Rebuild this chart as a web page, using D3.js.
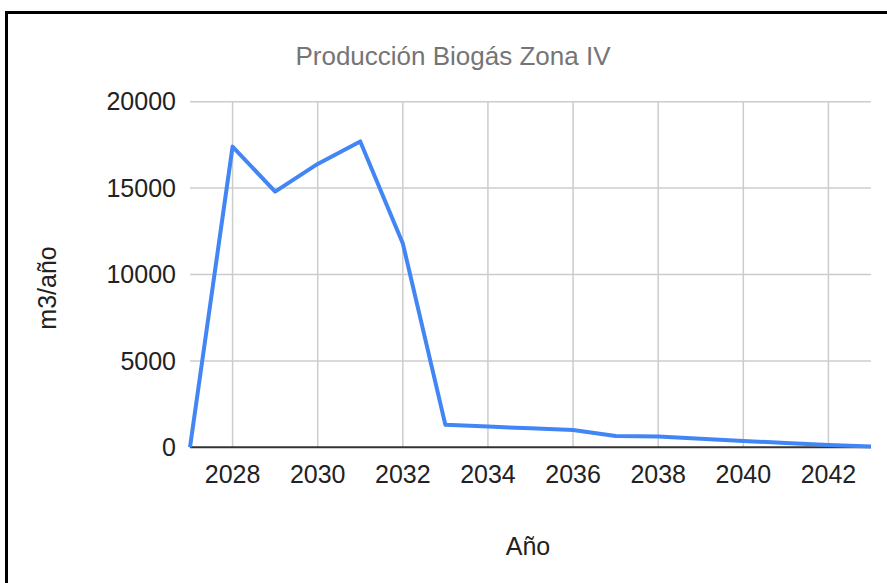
<!DOCTYPE html>
<html>
<head>
<meta charset="utf-8">
<script src="https://cdn.jsdelivr.net/npm/d3@7"></script>
<style>
  html, body { margin: 0; padding: 0; background: #fff; }
  svg { display: block; font-family: "Liberation Sans", Arial, sans-serif; }
</style>
</head>
<body>
<svg id="chart"></svg>
<script>
// datos
const years = [2027, 2028, 2029, 2030, 2031, 2032, 2033, 2034, 2035, 2036, 2037, 2038, 2039, 2040, 2041, 2042, 2043];
const biogas = [0, 17400, 14800, 16400, 17700, 11800, 1300, 1200, 1100, 1000, 650, 620, 490, 370, 250, 130, 40];
const xTicks = [2028, 2030, 2032, 2034, 2036, 2038, 2040, 2042];
const yTicks = [0, 5000, 10000, 15000, 20000];

const width = 887, height = 583;
const svg = d3.select("#chart").attr("width", width).attr("height", height);

// marco (solo arriba e izquierda, la imagen está recortada)
svg.append("line").attr("x1", 5).attr("x2", width).attr("y1", 12.5).attr("y2", 12.5)
    .attr("stroke", "#000").attr("stroke-width", 3);
svg.append("line").attr("x1", 6.5).attr("x2", 6.5).attr("y1", 11).attr("y2", height)
    .attr("stroke", "#000").attr("stroke-width", 3);

const x = d3.scaleLinear().domain([2027, 2043]).range([190, 871]);
const y = d3.scaleLinear().domain([0, 20000]).range([447.3, 101.7]);

// rejilla
svg.append("g").selectAll("line").data(yTicks.filter(d => d > 0)).join("line")
    .attr("x1", x.range()[0]).attr("x2", x.range()[1])
    .attr("y1", d => y(d)).attr("y2", d => y(d))
    .attr("stroke", "#cccccc").attr("stroke-width", 1.5);
svg.append("g").selectAll("line").data(xTicks).join("line")
    .attr("x1", d => x(d)).attr("x2", d => x(d))
    .attr("y1", y(20000)).attr("y2", y(0))
    .attr("stroke", "#cccccc").attr("stroke-width", 1.5);

// línea base
svg.append("line").attr("x1", x.range()[0]).attr("x2", x.range()[1])
    .attr("y1", y(0)).attr("y2", y(0))
    .attr("stroke", "#333").attr("stroke-width", 2);

// etiquetas de ejes
svg.append("g").selectAll("text").data(yTicks).join("text")
    .attr("x", 176).attr("y", d => y(d)).attr("dy", "0.35em")
    .attr("text-anchor", "end").attr("font-size", 25).attr("fill", "#222")
    .text(d => d);
svg.append("g").selectAll("text").data(xTicks).join("text")
    .attr("x", d => x(d)).attr("y", 483)
    .attr("text-anchor", "middle").attr("font-size", 25).attr("fill", "#222")
    .text(d => d);

// serie
const line = d3.line().x((d, i) => x(years[i])).y(d => y(d));
svg.append("path").datum(biogas)
    .attr("d", line)
    .attr("fill", "none").attr("stroke", "#4285f4")
    .attr("stroke-width", 4).attr("stroke-linejoin", "round");

// títulos
svg.append("text").attr("x", 453).attr("y", 65).attr("text-anchor", "middle")
    .attr("font-size", 26).attr("fill", "#757575")
    .text("Producción Biogás Zona IV");
svg.append("text").attr("x", 528).attr("y", 555).attr("text-anchor", "middle")
    .attr("font-size", 25).attr("fill", "#222").text("Año");
svg.append("text").attr("transform", "translate(56,288) rotate(-90)")
    .attr("text-anchor", "middle").attr("font-size", 25).attr("fill", "#222")
    .text("m3/año");
</script>
</body>
</html>
